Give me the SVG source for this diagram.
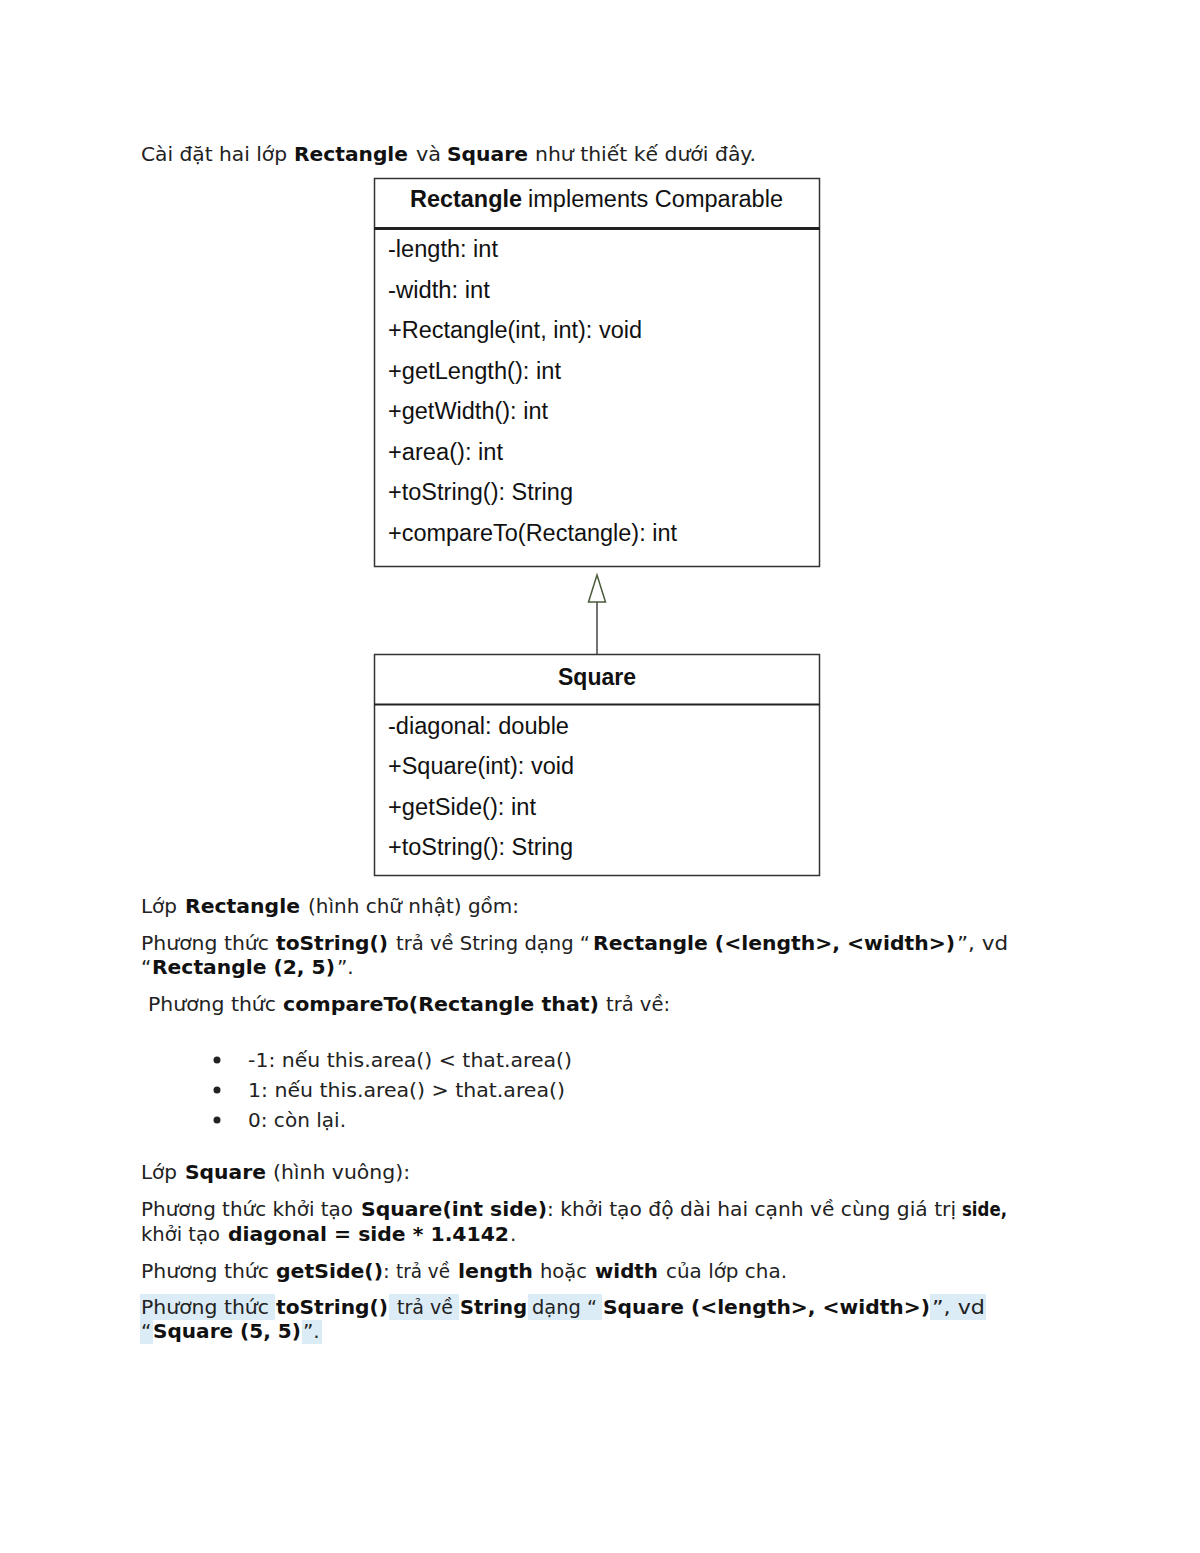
<svg xmlns="http://www.w3.org/2000/svg" width="1200" height="1553" viewBox="0 0 1200 1553">
<style>
.t{font-family:"DejaVu Sans","Noto Sans",sans-serif;font-size:20px;fill:#222}
.b{font-weight:bold;fill:#111}
.u{font-family:"Liberation Sans",Arial,sans-serif;font-size:23px;fill:#111}
.ub{font-weight:bold}
.box{fill:#fff;stroke:#333;stroke-width:1.5}
.sep{stroke:#222}
.hl{fill:#dcecf6}
</style>
<rect width="1200" height="1553" fill="#fff"/>

<g id="intro">
<text class="t" y="161"><tspan x="141" textLength="146" lengthAdjust="spacingAndGlyphs">Cài đặt hai lớp</tspan><tspan class="b" x="294" textLength="114" lengthAdjust="spacingAndGlyphs">Rectangle</tspan><tspan x="416" textLength="25" lengthAdjust="spacingAndGlyphs">và</tspan><tspan class="b" x="447" textLength="81" lengthAdjust="spacingAndGlyphs">Square</tspan><tspan x="535" textLength="221" lengthAdjust="spacingAndGlyphs">như thiết kế dưới đây.</tspan></text>
</g>

<g id="rectangle">
<rect class="box" x="374.5" y="178.5" width="445" height="388"/>
<line class="sep" x1="374" y1="228.5" x2="820" y2="228.5" stroke-width="3"/>
<text class="u" y="207"><tspan class="ub" x="410" textLength="112" lengthAdjust="spacingAndGlyphs">Rectangle</tspan><tspan x="528" textLength="255" lengthAdjust="spacingAndGlyphs">implements Comparable</tspan></text>
<text class="u" x="388" y="257" textLength="110" lengthAdjust="spacingAndGlyphs">-length: int</text>
<text class="u" x="388" y="298" textLength="102" lengthAdjust="spacingAndGlyphs">-width: int</text>
<text class="u" x="388" y="338" textLength="254" lengthAdjust="spacingAndGlyphs">+Rectangle(int, int): void</text>
<text class="u" x="388" y="379" textLength="173" lengthAdjust="spacingAndGlyphs">+getLength(): int</text>
<text class="u" x="388" y="419" textLength="160" lengthAdjust="spacingAndGlyphs">+getWidth(): int</text>
<text class="u" x="388" y="460" textLength="115" lengthAdjust="spacingAndGlyphs">+area(): int</text>
<text class="u" x="388" y="500" textLength="185" lengthAdjust="spacingAndGlyphs">+toString(): String</text>
<text class="u" x="388" y="541" textLength="289" lengthAdjust="spacingAndGlyphs">+compareTo(Rectangle): int</text>
</g>

<g id="square">
<rect class="box" x="374.5" y="654.5" width="445" height="221"/>
<line class="sep" x1="374" y1="704.5" x2="820" y2="704.5" stroke-width="2"/>
<text class="u ub" x="558" y="685" textLength="78" lengthAdjust="spacingAndGlyphs">Square</text>
<text class="u" x="388" y="734" textLength="181" lengthAdjust="spacingAndGlyphs">-diagonal: double</text>
<text class="u" x="388" y="774" textLength="186" lengthAdjust="spacingAndGlyphs">+Square(int): void</text>
<text class="u" x="388" y="815" textLength="148" lengthAdjust="spacingAndGlyphs">+getSide(): int</text>
<text class="u" x="388" y="855" textLength="185" lengthAdjust="spacingAndGlyphs">+toString(): String</text>
</g>

<g id="connectors">
<line x1="597" y1="601" x2="597" y2="654" stroke="#444" stroke-width="1.5"/>
<polygon points="597,575 588.5,602 605.5,602" fill="#fff" stroke="#4a5c3a" stroke-width="1.5"/>
</g>

<g id="description">
<text class="t" y="913"><tspan x="141" textLength="36" lengthAdjust="spacingAndGlyphs">Lớp</tspan><tspan class="b" x="185" textLength="115" lengthAdjust="spacingAndGlyphs">Rectangle</tspan><tspan x="308" textLength="211" lengthAdjust="spacingAndGlyphs">(hình chữ nhật) gồm:</tspan></text>
<text class="t" y="950"><tspan x="141" textLength="128" lengthAdjust="spacingAndGlyphs">Phương thức</tspan><tspan class="b" x="276" textLength="112" lengthAdjust="spacingAndGlyphs">toString()</tspan><tspan x="396" textLength="194" lengthAdjust="spacingAndGlyphs">trả về String dạng “</tspan><tspan class="b" x="593" textLength="362" lengthAdjust="spacingAndGlyphs">Rectangle (&lt;length&gt;, &lt;width&gt;)</tspan><tspan x="957" textLength="51" lengthAdjust="spacingAndGlyphs">”, vd</tspan></text>
<text class="t" y="974"><tspan x="141">“</tspan><tspan class="b" x="152" textLength="183" lengthAdjust="spacingAndGlyphs">Rectangle (2, 5)</tspan><tspan x="337">”.</tspan></text>
<text class="t" y="1011"><tspan x="148" textLength="128" lengthAdjust="spacingAndGlyphs">Phương thức</tspan><tspan class="b" x="283" textLength="316" lengthAdjust="spacingAndGlyphs">compareTo(Rectangle that)</tspan><tspan x="606" textLength="64" lengthAdjust="spacingAndGlyphs">trả về:</tspan></text>

<circle cx="217" cy="1060" r="3.5" fill="#222"/>
<circle cx="217" cy="1090" r="3.5" fill="#222"/>
<circle cx="217" cy="1120" r="3.5" fill="#222"/>
<text class="t" x="248" y="1067" textLength="324" lengthAdjust="spacingAndGlyphs">-1: nếu this.area() &lt; that.area()</text>
<text class="t" x="248" y="1097" textLength="317" lengthAdjust="spacingAndGlyphs">1: nếu this.area() &gt; that.area()</text>
<text class="t" x="248" y="1127" textLength="98" lengthAdjust="spacingAndGlyphs">0: còn lại.</text>

<text class="t" y="1179"><tspan x="141" textLength="36" lengthAdjust="spacingAndGlyphs">Lớp</tspan><tspan class="b" x="185" textLength="81" lengthAdjust="spacingAndGlyphs">Square</tspan><tspan x="273" textLength="137" lengthAdjust="spacingAndGlyphs">(hình vuông):</tspan></text>
<text class="t" y="1216"><tspan x="141" textLength="212" lengthAdjust="spacingAndGlyphs">Phương thức khởi tạo</tspan><tspan class="b" x="361" textLength="186" lengthAdjust="spacingAndGlyphs">Square(int side)</tspan><tspan x="547" textLength="409" lengthAdjust="spacingAndGlyphs">: khởi tạo độ dài hai cạnh về cùng giá trị</tspan><tspan class="b" x="962" textLength="45" lengthAdjust="spacingAndGlyphs">side,</tspan></text>
<text class="t" y="1241"><tspan x="141" textLength="79" lengthAdjust="spacingAndGlyphs">khởi tạo</tspan><tspan class="b" x="228" textLength="281" lengthAdjust="spacingAndGlyphs">diagonal = side * 1.4142</tspan><tspan x="510">.</tspan></text>
<text class="t" y="1278"><tspan x="141" textLength="128" lengthAdjust="spacingAndGlyphs">Phương thức</tspan><tspan class="b" x="276" textLength="107" lengthAdjust="spacingAndGlyphs">getSide()</tspan><tspan x="383">:</tspan><tspan x="396" textLength="54" lengthAdjust="spacingAndGlyphs">trả về</tspan><tspan class="b" x="458" textLength="75" lengthAdjust="spacingAndGlyphs">length</tspan><tspan x="540" textLength="47" lengthAdjust="spacingAndGlyphs">hoặc</tspan><tspan class="b" x="595" textLength="63" lengthAdjust="spacingAndGlyphs">width</tspan><tspan x="666" textLength="121" lengthAdjust="spacingAndGlyphs">của lớp cha.</tspan></text>

<rect class="hl" x="140" y="1294" width="135" height="26"/>
<rect class="hl" x="389" y="1294" width="70" height="26"/>
<rect class="hl" x="528" y="1294" width="74" height="26"/>
<rect class="hl" x="930" y="1294" width="56" height="26"/>
<rect class="hl" x="140" y="1320" width="13" height="24"/>
<rect class="hl" x="302" y="1320" width="20" height="24"/>
<text class="t" y="1314"><tspan x="141" textLength="128" lengthAdjust="spacingAndGlyphs">Phương thức</tspan><tspan class="b" x="276" textLength="112" lengthAdjust="spacingAndGlyphs">toString()</tspan><tspan x="397" textLength="56" lengthAdjust="spacingAndGlyphs">trả về</tspan><tspan class="b" x="460" textLength="67" lengthAdjust="spacingAndGlyphs">String</tspan><tspan x="532" textLength="65" lengthAdjust="spacingAndGlyphs">dạng “</tspan><tspan class="b" x="603" textLength="327" lengthAdjust="spacingAndGlyphs">Square (&lt;length&gt;, &lt;width&gt;)</tspan><tspan x="932" textLength="53" lengthAdjust="spacingAndGlyphs">”, vd</tspan></text>
<text class="t" y="1338"><tspan x="141">“</tspan><tspan class="b" x="153" textLength="148" lengthAdjust="spacingAndGlyphs">Square (5, 5)</tspan><tspan x="303">”.</tspan></text>
</g>
</svg>
